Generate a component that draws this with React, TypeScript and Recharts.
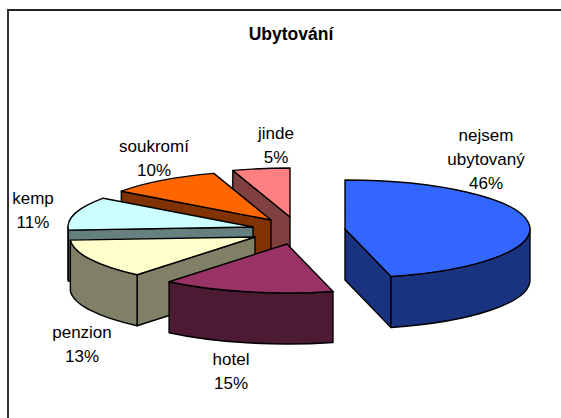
import { Pie, PieChart } from "recharts"

// listed back to front, so the later slices paint over the earlier ones
const categories = ["jinde", "soukromí", "kemp", "penzion", "hotel", "nejsem ubytovaný"]
const shares = [5, 10, 11, 13, 15, 46]
const topColors = ["#FF8080", "#FF6600", "#CCFFFF", "#FFFFCC", "#993366", "#3366FF"]
const sideColors = ["#804040", "#803300", "#668080", "#808066", "#4D1A33", "#1A3380"]

const data = categories.map((name, i) => ({
  name,
  value: shares[i],
  top: topColors[i],
  side: sideColors[i],
}))

const CX = 300
const CY = 225
const RX = 185
const RY = 49
const DEPTH = 51
const FONT = "Liberation Sans"

// how far each slice is pulled out of the pie
const explode: Record<string, [number, number]> = {
  jinde: [-10, -8],
  "soukromí": [-29, -5],
  kemp: [-47, 2],
  penzion: [-45, 12],
  hotel: [-13, 19],
  "nejsem ubytovaný": [45, 4],
}

// label centre x and text baselines, last line is the percentage
const labelPos: Record<string, { x: number; lines: [string, number][]; pctY: number }> = {
  jinde: { x: 276, lines: [["jinde", 139]], pctY: 163 },
  "soukromí": { x: 154, lines: [["soukromí", 152]], pctY: 176 },
  kemp: { x: 33, lines: [["kemp", 204]], pctY: 228 },
  penzion: { x: 82, lines: [["penzion", 338]], pctY: 362 },
  hotel: { x: 231, lines: [["hotel", 365]], pctY: 389 },
  "nejsem ubytovaný": { x: 486, lines: [["nejsem", 141], ["ubytovaný", 165]], pctY: 189 },
}

const rad = (a: number) => (a * Math.PI) / 180

function Slice3D(props: any) {
  const { startAngle, endAngle, payload } = props
  const name = payload?.name ?? props.name
  const top = payload?.top ?? props.top
  const side = payload?.side ?? props.side
  const [dx, dy] = explode[name]
  const ox = CX + dx
  const oy = CY + dy
  const pt = (a: number) => [ox + RX * Math.cos(rad(a)), oy - RY * Math.sin(rad(a))]
  const [x0, y0] = pt(startAngle)
  const [x1, y1] = pt(endAngle)
  const large = endAngle - startAngle > 180 ? 1 : 0

  const wall = (x: number, y: number) =>
    `M${ox},${oy} L${x},${y} L${x},${y + DEPTH} L${ox},${oy + DEPTH} Z`

  // front half of the rim is 180..360
  const rimFrom = Math.max(startAngle, 180)
  const rimTo = Math.min(endAngle, 360)
  let rim = null
  if (rimTo > rimFrom) {
    const [ax, ay] = pt(rimFrom)
    const [bx, by] = pt(rimTo)
    rim = (
      <path
        d={`M${ax},${ay} A${RX},${RY} 0 0 0 ${bx},${by} L${bx},${by + DEPTH} A${RX},${RY} 0 0 1 ${ax},${ay + DEPTH} Z`}
        fill={side}
        stroke="#000"
        strokeWidth={1.4}
        strokeLinejoin="round"
      />
    )
  }

  return (
    <g>
      {Math.cos(rad(startAngle)) > 0.001 && (
        <path d={wall(x0, y0)} fill={side} stroke="#000" strokeWidth={1.4} strokeLinejoin="round" />
      )}
      {Math.cos(rad(endAngle)) < -0.001 && (
        <path d={wall(x1, y1)} fill={side} stroke="#000" strokeWidth={1.4} strokeLinejoin="round" />
      )}
      {rim}
      <path
        d={`M${ox},${oy} L${x0},${y0} A${RX},${RY} 0 ${large} 0 ${x1},${y1} Z`}
        fill={top}
        stroke="#000"
        strokeWidth={1.4}
        strokeLinejoin="round"
      />
    </g>
  )
}

function SliceLabel(props: any) {
  const name = props.payload?.name ?? props.name
  const value = props.payload?.value ?? props.value
  const pos = labelPos[name]
  const style = { fontFamily: FONT, fontSize: 17, fill: "#000" }
  return (
    <g>
      {pos.lines.map(([t, y]) => (
        <text key={t} x={pos.x} y={y} textAnchor="middle" style={style}>
          {t}
        </text>
      ))}
      <text x={pos.x} y={pos.pctY} textAnchor="middle" style={style}>
        {value}%
      </text>
    </g>
  )
}

export default function App() {
  return (
    <div style={{ position: "absolute", left: 0, top: 0, width: 561, height: 418, background: "#fff", overflow: "hidden" }}>
      <div
        style={{
          position: "absolute",
          left: 7,
          top: 9,
          width: 560,
          height: 420,
          borderTop: "2px solid #222",
          borderLeft: "2px solid #333",
        }}
      />
      <div style={{ position: "absolute", left: 0, top: 0 }}>
        <PieChart width={561} height={418} margin={{ top: 0, right: 0, bottom: 0, left: 0 }}>
          <text
            x={291}
            y={40}
            textAnchor="middle"
            style={{ fontFamily: FONT, fontSize: 17.5, fontWeight: 700, fill: "#000" }}
          >
            Ubytování
          </text>
          <Pie
            data={data}
            dataKey="value"
            nameKey="name"
            cx={CX}
            cy={CY}
            outerRadius={RX}
            startAngle={90}
            endAngle={450}
            shape={Slice3D}
            label={SliceLabel}
            labelLine={false}
            isAnimationActive={false}
          />
        </PieChart>
      </div>
    </div>
  )
}
